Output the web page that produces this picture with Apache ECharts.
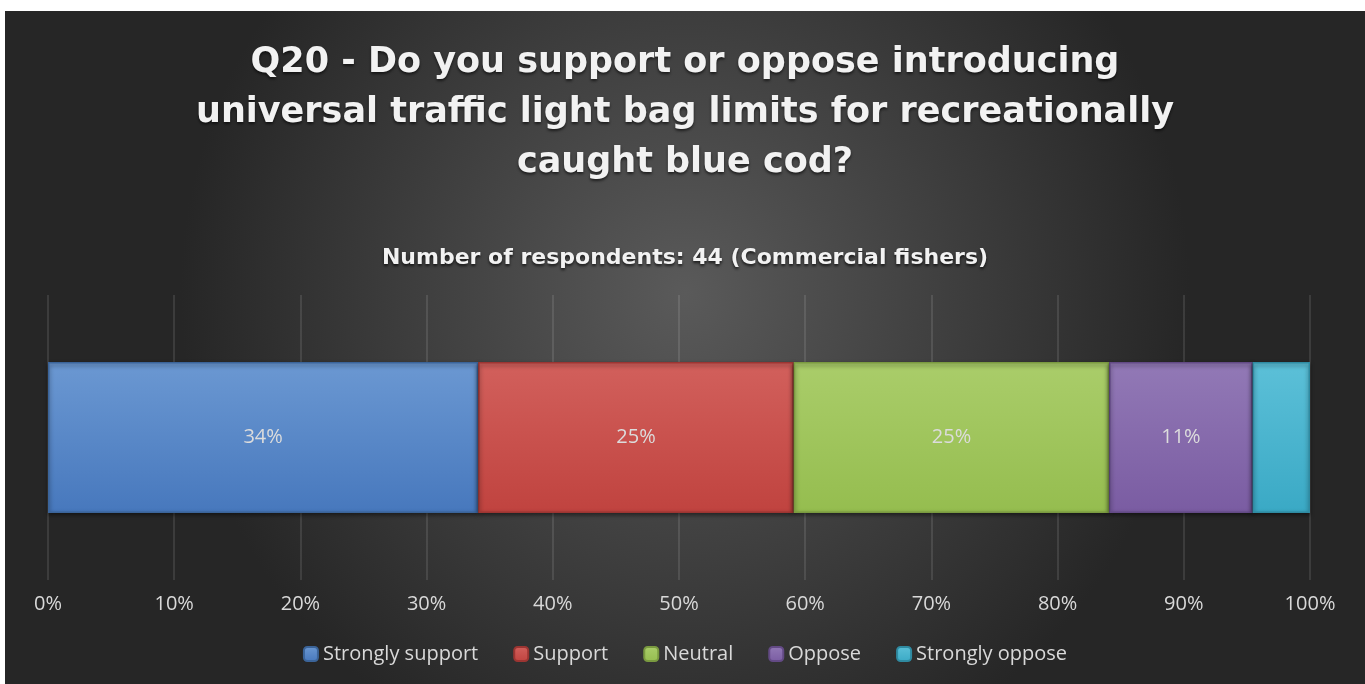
<!DOCTYPE html>
<html>
<head>
<meta charset="utf-8">
<script src="https://cdn.jsdelivr.net/npm/echarts@6/dist/echarts.min.js"></script>
<style>
  html, body { margin: 0; padding: 0; background: #ffffff; }
  #chart { position: absolute; left: 5px; top: 11px; width: 1360px; height: 673px; }
</style>
</head>
<body>
<div id="chart"></div>
<script>
// 数据（回答人数，共44人）
var categories = ['Q20'];
var seriesNames = ['Strongly support', 'Support', 'Neutral', 'Oppose', 'Strongly oppose'];
var counts = [15, 11, 11, 5, 2];
var totalRespondents = 44;
var tickLabels = ['0%', '10%', '20%', '30%', '40%', '50%', '60%', '70%', '80%', '90%', '100%'];

var barColors = {
    top: ['#6b98d2', '#d2605c', '#aacd6a', '#9279b6', '#5cc0d8'],
    bottom: ['#4778bd', '#c0433f', '#95bd4f', '#7a5ca2', '#3aa9c5'],
    border: ['#3b6499', '#9c3532', '#7a9a40', '#634a85', '#2f8aa1']
};

var font = '"Open Sans", sans-serif';
var titleFont = '"DejaVu Sans", sans-serif'; // 标题字距较宽

var series = [];
for (let i = 0; i < seriesNames.length; i++) {
    var pct = counts[i] / totalRespondents;
    series.push({
        name: seriesNames[i],
        type: 'bar',
        stack: 'total',
        barWidth: 151,
        data: [pct],
        itemStyle: {
            color: {
                type: 'linear', x: 0, y: 0, x2: 0, y2: 1,
                colorStops: [
                    { offset: 0, color: barColors.top[i] },
                    { offset: 1, color: barColors.bottom[i] }
                ]
            },
            borderColor: barColors.border[i],
            borderWidth: 1.5,
            shadowColor: 'rgba(0,0,0,0.5)',
            shadowBlur: 4,
            shadowOffsetY: 2
        },
        label: {
            show: pct >= 0.08,  // 太窄的不显示
            position: 'inside',
            color: '#dcdcdc',
            fontFamily: font,
            fontSize: 20,
            formatter: function (p) { return Math.round(p.value * 100) + '%'; }
        },
        emphasis: { disabled: true }
    });
}

var chart = echarts.init(document.getElementById('chart'));
chart.setOption({
    backgroundColor: {
        type: 'radial', x: 0.5, y: 0.42, r: 0.75,
        colorStops: [
            { offset: 0, color: '#5a5a5a' },
            { offset: 1, color: '#262626' }
        ]
    },
    animation: false,
    title: [
        {
            text: 'Q20 - Do you support or oppose introducing\nuniversal traffic light bag limits for recreationally\ncaught blue cod?',
            left: 'center',
            top: 22,
            textStyle: {
                color: '#f2f2f2',
                fontFamily: titleFont,
                fontWeight: 'bold',
                fontSize: 35,
                lineHeight: 50,
                align: 'center',
                textShadowColor: 'rgba(0,0,0,0.6)',
                textShadowBlur: 3,
                textShadowOffsetY: 2
            }
        },
        {
            text: 'Number of respondents: 44 (Commercial fishers)',
            left: 'center',
            top: 231,
            textStyle: {
                color: '#f2f2f2',
                fontFamily: titleFont,
                fontWeight: 'bold',
                fontSize: 22,
                textShadowColor: 'rgba(0,0,0,0.7)',
                textShadowBlur: 3,
                textShadowOffsetY: 2
            }
        }
    ],
    legend: {
        data: seriesNames,
        bottom: 15,
        left: 'center',
        itemWidth: 14,
        itemHeight: 14,
        itemGap: 35,
        textStyle: { color: '#d9d9d9', fontFamily: font, fontSize: 20 }
    },
    grid: { left: 43, right: 55, top: 284, bottom: 104, containLabel: false },
    xAxis: {
        type: 'value',
        min: 0,
        max: 1,
        interval: 0.1,
        axisLine: { show: false },
        axisTick: { show: false },
        splitLine: { lineStyle: { color: 'rgba(255,255,255,0.14)', width: 1.5 } },
        axisLabel: {
            color: '#d9d9d9',
            fontFamily: font,
            fontSize: 20,
            margin: 14,
            formatter: function (v) { return tickLabels[Math.round(v * 10)]; }
        }
    },
    yAxis: {
        type: 'category',
        data: categories,
        axisLine: { show: false },
        axisTick: { show: false },
        axisLabel: { show: false }
    },
    series: series
});
</script>
</body>
</html>
